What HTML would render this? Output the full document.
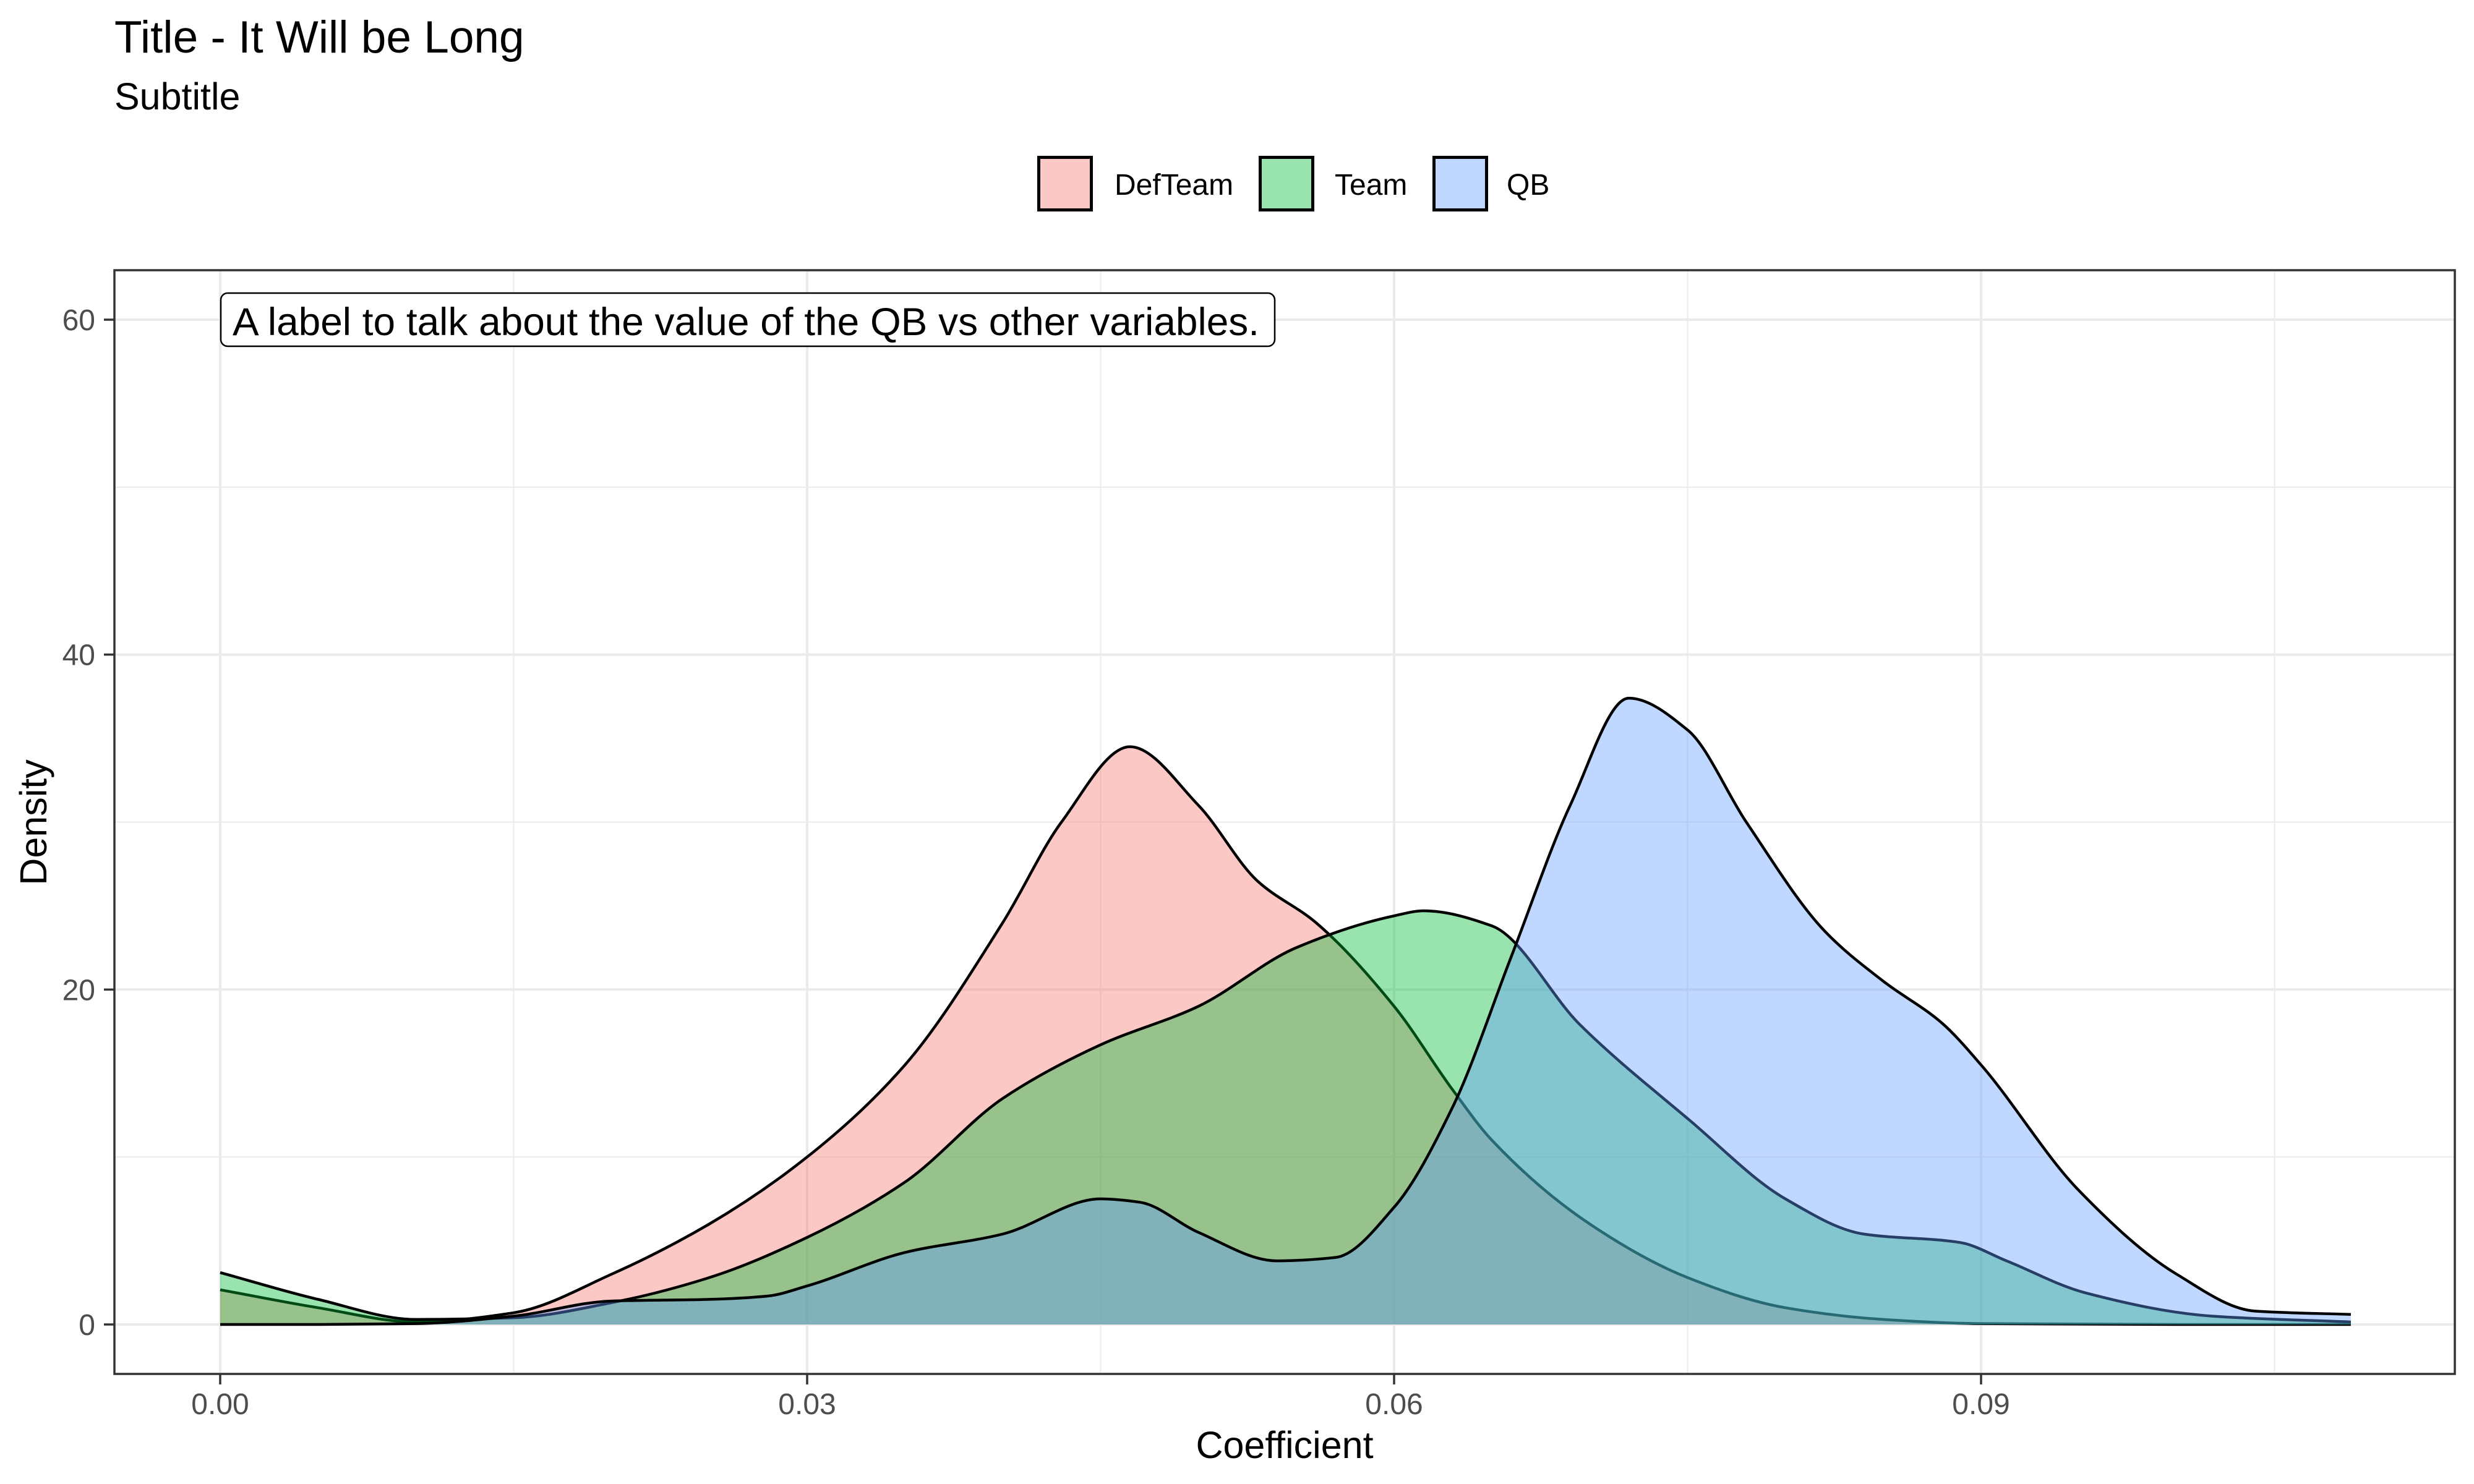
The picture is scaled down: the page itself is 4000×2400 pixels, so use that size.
<!DOCTYPE html>
<html><head><meta charset="utf-8"><style>
html,body{margin:0;padding:0;background:#fff;}
svg{display:block;font-family:"Liberation Sans",Arial,sans-serif;}
</style></head><body>
<svg id="chart" width="4000" height="2400" viewBox="0 0 4000 2400" xmlns="http://www.w3.org/2000/svg">
<rect width="4000" height="2400" fill="#fff"/>
<text x="185" y="85" font-size="73" fill="#000">Title - It Will be Long</text>
<text x="185" y="177" font-size="61" fill="#000">Subtitle</text>
<g id="legend"></g>
<g id="grid"></g>
<g id="series"></g>
<g id="axes"></g>
<text x="2077" y="2358" font-size="61" text-anchor="middle" fill="#000">Coefficient</text>
<text transform="translate(75,1330) rotate(-90)" font-size="61" text-anchor="middle" fill="#000">Density</text>
<g>
<rect x="357" y="474" width="1704" height="86" rx="11" ry="11" fill="#fff" stroke="#000" stroke-width="2.5"/>
<text x="376" y="542" font-size="63" textLength="1660" lengthAdjust="spacingAndGlyphs" fill="#000">A label to talk about the value of the QB vs other variables.</text>
</g>
</svg>
<script>
const seriesNames = ["DefTeam", "Team", "QB"];
const seriesColors = ["#F8766D", "#00BA38", "#619CFF"];
const defTeamX = [0, 0.005, 0.01, 0.015, 0.02, 0.025, 0.03, 0.035, 0.04, 0.043, 0.0465, 0.05, 0.053, 0.056, 0.06, 0.063, 0.065, 0.07, 0.075, 0.08, 0.085, 0.09, 0.1, 0.1089];
const defTeamY = [2.07, 1.0, 0.15, 0.7, 3.0, 6.0, 10, 15.5, 24, 30, 34.5, 31, 26.5, 24, 19, 14, 11, 6, 2.8, 1, 0.3, 0.05, 0, 0];
const teamX = [0, 0.005, 0.01, 0.015, 0.02, 0.025, 0.03, 0.035, 0.04, 0.045, 0.05, 0.055, 0.06, 0.0615, 0.065, 0.0695, 0.0751, 0.08, 0.084, 0.0889, 0.0913, 0.0953, 0.1018, 0.1089];
const teamY = [3.1, 1.5, 0.3, 0.4, 1.3, 2.8, 5.2, 8.5, 13.5, 16.7, 19, 22.5, 24.4, 24.7, 23.8, 17.9, 12.2, 7.5, 5.4, 4.9, 3.8, 1.9, 0.5, 0.15];
const qbX = [0, 0.005, 0.01, 0.015, 0.02, 0.025, 0.028, 0.03, 0.035, 0.04, 0.045, 0.047, 0.05, 0.054, 0.057, 0.06, 0.063, 0.066, 0.069, 0.072, 0.075, 0.078, 0.082, 0.085, 0.088, 0.09, 0.095, 0.1, 0.104, 0.1089];
const qbY = [0, 0, 0.05, 0.5, 1.4, 1.5, 1.7, 2.3, 4.3, 5.4, 7.5, 7.3, 5.5, 3.8, 4, 7, 13, 22, 31, 37.4, 35.5, 30, 23.5, 20.5, 18, 15.5, 8, 3, 0.8, 0.6];
const xTicks = [0, 0.03, 0.06, 0.09];
const xTickLabels = ["0.00", "0.03", "0.06", "0.09"];
const xMinor = [0.015, 0.045, 0.075, 0.105];
const yTicks = [0, 20, 40, 60];
const yTickLabels = ["0", "20", "40", "60"];
const yMinor = [10, 30, 50];

const P = {l:185, r:3969, t:437, b:2222};
const X0 = 356, XPER = (2253 - 1304) / 0.03;
const Y0 = 2142, YPER = (2142 - 517) / 60;
function xs(v){ return X0 + v * XPER; }
function ys(v){ return Y0 - v * YPER; }
const NS = "http://www.w3.org/2000/svg";
function mk(tag, attrs, parent){
  const e = document.createElementNS(NS, tag);
  for (const k in attrs) e.setAttribute(k, attrs[k]);
  parent.appendChild(e);
  return e;
}
const grid = document.getElementById('grid');
const series = document.getElementById('series');
const axes = document.getElementById('axes');
const legend = document.getElementById('legend');

mk('rect', {x:P.l, y:P.t, width:P.r-P.l, height:P.b-P.t, fill:'#fff'}, grid);
yMinor.forEach(v => {
  const l = mk('line', {x1:P.l, x2:P.r, y1:ys(v), y2:ys(v), stroke:'#EBEBEB', 'stroke-width':2}, grid);
  
  
});
xMinor.forEach(v => {
  const l = mk('line', {x1:xs(v), x2:xs(v), y1:P.t, y2:P.b, stroke:'#EBEBEB', 'stroke-width':2}, grid);
  
  
});
yTicks.forEach(v => {
  const l = mk('line', {x1:P.l, x2:P.r, y1:ys(v), y2:ys(v), stroke:'#EBEBEB', 'stroke-width':4}, grid);
  
  
});
xTicks.forEach(v => {
  const l = mk('line', {x1:xs(v), x2:xs(v), y1:P.t, y2:P.b, stroke:'#EBEBEB', 'stroke-width':4}, grid);
  
  
});

// monotone cubic (Fritsch-Carlson) path
function curvePath(xa, ya){
  const px = xa.map(xs), py = ya.map(ys), n = px.length;
  const d = [], m = new Array(n);
  for (let i = 0; i < n-1; i++) d.push((py[i+1]-py[i])/(px[i+1]-px[i]));
  m[0] = d[0]; m[n-1] = d[n-2];
  for (let i = 1; i < n-1; i++){
    if (d[i-1]*d[i] <= 0) m[i] = 0;
    else {
      const h0 = px[i]-px[i-1], h1 = px[i+1]-px[i];
      const w1 = 2*h1 + h0, w2 = h1 + 2*h0;
      m[i] = (w1 + w2) / (w1/d[i-1] + w2/d[i]);
    }
  }
  let s = 'M' + px[0] + ',' + py[0];
  for (let i = 0; i < n-1; i++){
    const h = (px[i+1]-px[i])/3;
    s += ' C' + (px[i]+h) + ',' + Math.min(py[i]+m[i]*h, Y0) + ' ' + (px[i+1]-h) + ',' + Math.min(py[i+1]-m[i+1]*h, Y0) + ' ' + px[i+1] + ',' + py[i+1];
  }
  return s;
}
const allX = [defTeamX, teamX, qbX], allY = [defTeamY, teamY, qbY];
const keys = ['defteam', 'team', 'qb'];
for (let s = 0; s < 3; s++){
  const xa = allX[s], ya = allY[s];
  const top = curvePath(xa, ya);
  const area = top + ' L' + xs(xa[xa.length-1]) + ',' + Y0 + ' L' + xs(xa[0]) + ',' + Y0 + ' Z';
  const a = mk('path', {d:area, fill:seriesColors[s], 'fill-opacity':0.4, stroke:'none'}, series);
  
  
  const ln = mk('path', {d:top, fill:'none', stroke:'#000', 'stroke-width':4.5, 'stroke-linejoin':'round'}, series);
  
  
}

const border = mk('rect', {x:P.l, y:P.t, width:P.r-P.l, height:P.b-P.t, fill:'none', stroke:'#333', 'stroke-width':3.5}, axes);


yTicks.forEach((v,i) => {
  const t = mk('line', {x1:P.l-17, x2:P.l, y1:ys(v), y2:ys(v), stroke:'#333', 'stroke-width':3.5}, axes);
  
  
  const tx = mk('text', {x:P.l-31, y:ys(v)+17, 'font-size':48, 'text-anchor':'end', fill:'#4D4D4D'}, axes);
  tx.textContent = yTickLabels[i];
  
  
});
xTicks.forEach((v,i) => {
  const t = mk('line', {x1:xs(v), x2:xs(v), y1:P.b, y2:P.b+17, stroke:'#333', 'stroke-width':3.5}, axes);
  
  
  const tx = mk('text', {x:xs(v), y:2287, 'font-size':48, 'text-anchor':'middle', fill:'#4D4D4D'}, axes);
  tx.textContent = xTickLabels[i];
  
  
});

const keyX = [1677, 2035, 2316], textX = [1802, 2158, 2436];
for (let s = 0; s < 3; s++){
  const g = mk('g', {}, legend);
  
  
  mk('rect', {x:keyX[s], y:252, width:90, height:90, fill:'#fff'}, g);
  const r = mk('rect', {x:keyX[s]+2.5, y:254.5, width:85, height:85, fill:seriesColors[s], 'fill-opacity':0.4, stroke:'#000', 'stroke-width':5}, g);
  
  
  const t = mk('text', {x:textX[s], y:315, 'font-size':48, fill:'#000'}, g);
  t.textContent = seriesNames[s];
  
  
}
</script>
</body></html>
